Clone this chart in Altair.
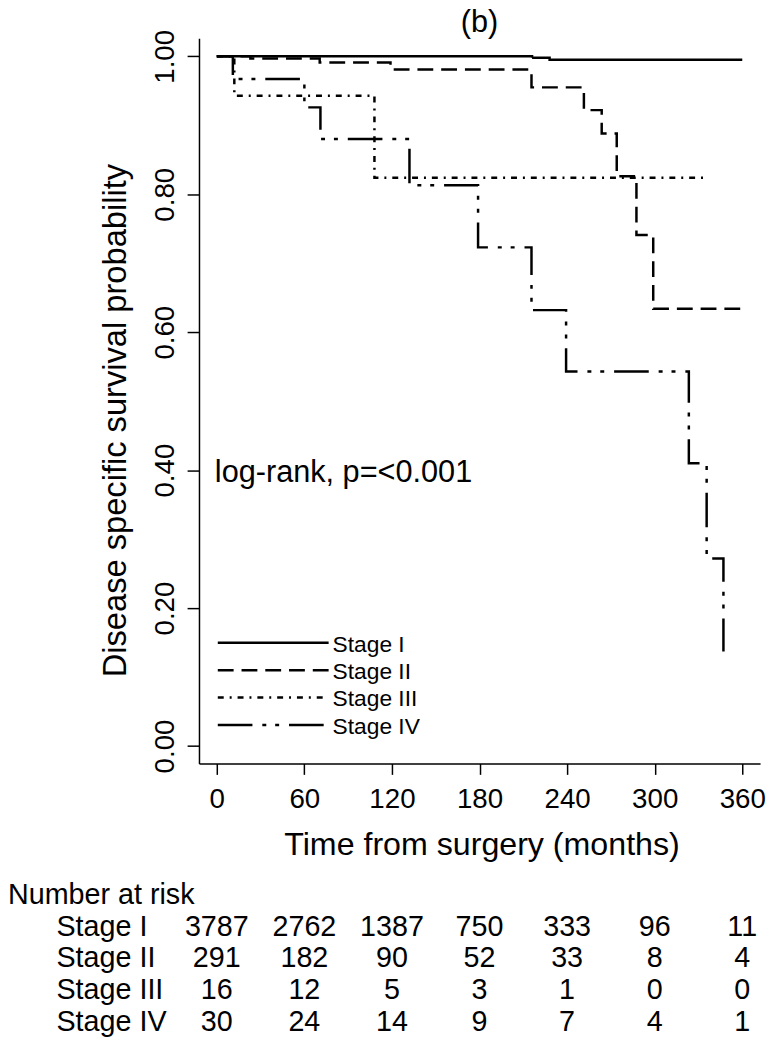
import altair as alt
import pandas as pd

# ---------------- data ----------------
stage_names = ["Stage I", "Stage II", "Stage III", "Stage IV"]

t_stage1 = [0, 216, 228, 360]
s_stage1 = [1.0, 0.998, 0.995, 0.995]

t_stage2 = [0, 23, 70.5, 119, 215.6, 251.5, 263.7, 274, 287.5, 299, 360]
s_stage2 = [1.0, 0.997, 0.991, 0.981, 0.955, 0.922, 0.888, 0.826, 0.741, 0.634, 0.634]

t_stage3 = [0, 12, 108, 336]
s_stage3 = [1.0, 0.943, 0.824, 0.824]

t_stage4 = [0, 11, 60, 71, 132, 179, 215.6, 239.3, 323.4, 335.6, 347.1]
s_stage4 = [1.0, 0.967, 0.926, 0.880, 0.813, 0.723, 0.632, 0.543, 0.410, 0.272, 0.137]

risk_months = [0, 60, 120, 180, 240, 300, 360]
risk_stage1 = [3787, 2762, 1387, 750, 333, 96, 11]
risk_stage2 = [291, 182, 90, 52, 33, 8, 4]
risk_stage3 = [16, 12, 5, 3, 1, 0, 0]
risk_stage4 = [30, 24, 14, 9, 7, 4, 1]

x_ticks = [0, 60, 120, 180, 240, 300, 360]
y_ticks = [0.0, 0.2, 0.4, 0.6, 0.8, 1.0]

panel_title = "(b)"
annotation = "log-rank, p=<0.001"
x_title = "Time from surgery (months)"
y_title = "Disease specific survival probability"
risk_header = "Number at risk"

# ---------------- styling / layout ----------------
FONT = "Liberation Sans, Arial, sans-serif"
W, H = 567, 733
dashes = [[1, 0], [16, 8], [6, 6, 2, 6], [35, 10, 4, 9, 4, 10]]

xscale = alt.Scale(domain=[-12.2, 372.2], nice=False, zero=False)
yscale = alt.Scale(domain=[-0.0254, 1.0264], nice=False, zero=False)

x_enc = alt.X(
    "t:Q", scale=xscale,
    axis=alt.Axis(
        values=x_ticks, format="d", title=x_title, grid=False,
        tickSize=11, tickWidth=1.5, domainWidth=1.5,
        labelFontSize=28, labelPadding=11, labelFont=FONT, labelFlush=False,
        titleFontSize=32.5, titleFont=FONT, titleFontWeight="normal",
        titleX=W / 2 + 2, titleY=92, titleAlign="center", titleBaseline="alphabetic",
    ),
)
y_enc = alt.Y(
    "s:Q", scale=yscale,
    axis=alt.Axis(
        values=y_ticks, format=".2f", title=y_title, grid=False,
        tickSize=12, tickWidth=1.5, domainWidth=1.5,
        labelFontSize=28, labelPadding=14, labelFont=FONT, labelAngle=270,
        labelAlign="center", labelBaseline="alphabetic", labelFlush=False,
        titleFontSize=33, titleFont=FONT, titleFontWeight="normal",
        titleAngle=270, titleX=-74, titleY=386, titleAlign="center",
        titleBaseline="alphabetic",
    ),
)

layers = []
curves = [(t_stage1, s_stage1), (t_stage2, s_stage2), (t_stage3, s_stage3), (t_stage4, s_stage4)]
for i, (tt, ss) in enumerate(curves):
    df = pd.DataFrame({"t": tt, "s": ss, "stage": stage_names[i]})
    layers.append(
        alt.Chart(df).mark_line(
            interpolate="step-after", color="black", strokeWidth=2.5,
            strokeDash=dashes[i], strokeCap="butt",
        ).encode(x=x_enc, y=y_enc)
    )

# legend (drawn inside the plot, lower-left)
for i, name in enumerate(stage_names):
    ly = 611 + i * 27.7
    ldf = pd.DataFrame({"label": [name]})
    layers.append(
        alt.Chart(ldf).mark_rule(color="black", strokeWidth=2.5, strokeDash=dashes[i], strokeCap="butt")
        .encode(x=alt.value(19), x2=alt.value(131), y=alt.value(ly))
    )
    layers.append(
        alt.Chart(ldf).mark_text(align="left", baseline="middle", fontSize=23, font=FONT, color="black")
        .encode(text="label:N", x=alt.value(135), y=alt.value(ly + 2))
    )

# annotation
layers.append(
    alt.Chart(pd.DataFrame({"label": [annotation]})).mark_text(
        align="left", baseline="alphabetic", fontSize=31, font=FONT, color="black")
    .encode(text="label:N", x=alt.value(16), y=alt.value(449))
)

# panel title
layers.append(
    alt.Chart(pd.DataFrame({"label": [panel_title]})).mark_text(
        align="center", baseline="alphabetic", fontSize=31, font=FONT, color="black")
    .encode(text="label:N", x=alt.value(W / 2), y=alt.value(-6))
)

# number at risk table
TABLE_FS = 29
layers.append(
    alt.Chart(pd.DataFrame({"label": [risk_header]})).mark_text(
        align="left", baseline="alphabetic", fontSize=TABLE_FS, font=FONT, color="black")
    .encode(text="label:N", x=alt.value(-193), y=alt.value(875))
)
risk_rows = [risk_stage1, risk_stage2, risk_stage3, risk_stage4]
for i, row in enumerate(risk_rows):
    ry = 907 + i * 32
    layers.append(
        alt.Chart(pd.DataFrame({"label": [stage_names[i]]})).mark_text(
            align="left", baseline="alphabetic", fontSize=TABLE_FS, font=FONT, color="black")
        .encode(text="label:N", x=alt.value(-144), y=alt.value(ry))
    )
    rdf = pd.DataFrame({"t": risk_months, "n": row})
    layers.append(
        alt.Chart(rdf).mark_text(
            align="center", baseline="alphabetic", fontSize=TABLE_FS, font=FONT, color="black")
        .encode(x=x_enc, text=alt.Text("n:Q", format="d"), y=alt.value(ry))
    )

chart = (
    alt.layer(*layers)
    .properties(
        width=W, height=H, autosize="none",
        padding={"left": 193, "top": 25, "right": 7, "bottom": 276},
    )
    .configure_view(stroke=None)
    .configure_axis(domainColor="black", tickColor="black", labelColor="black", titleColor="black")
)

chart.save("out.html", embed_options={"renderer": "svg", "actions": False})
